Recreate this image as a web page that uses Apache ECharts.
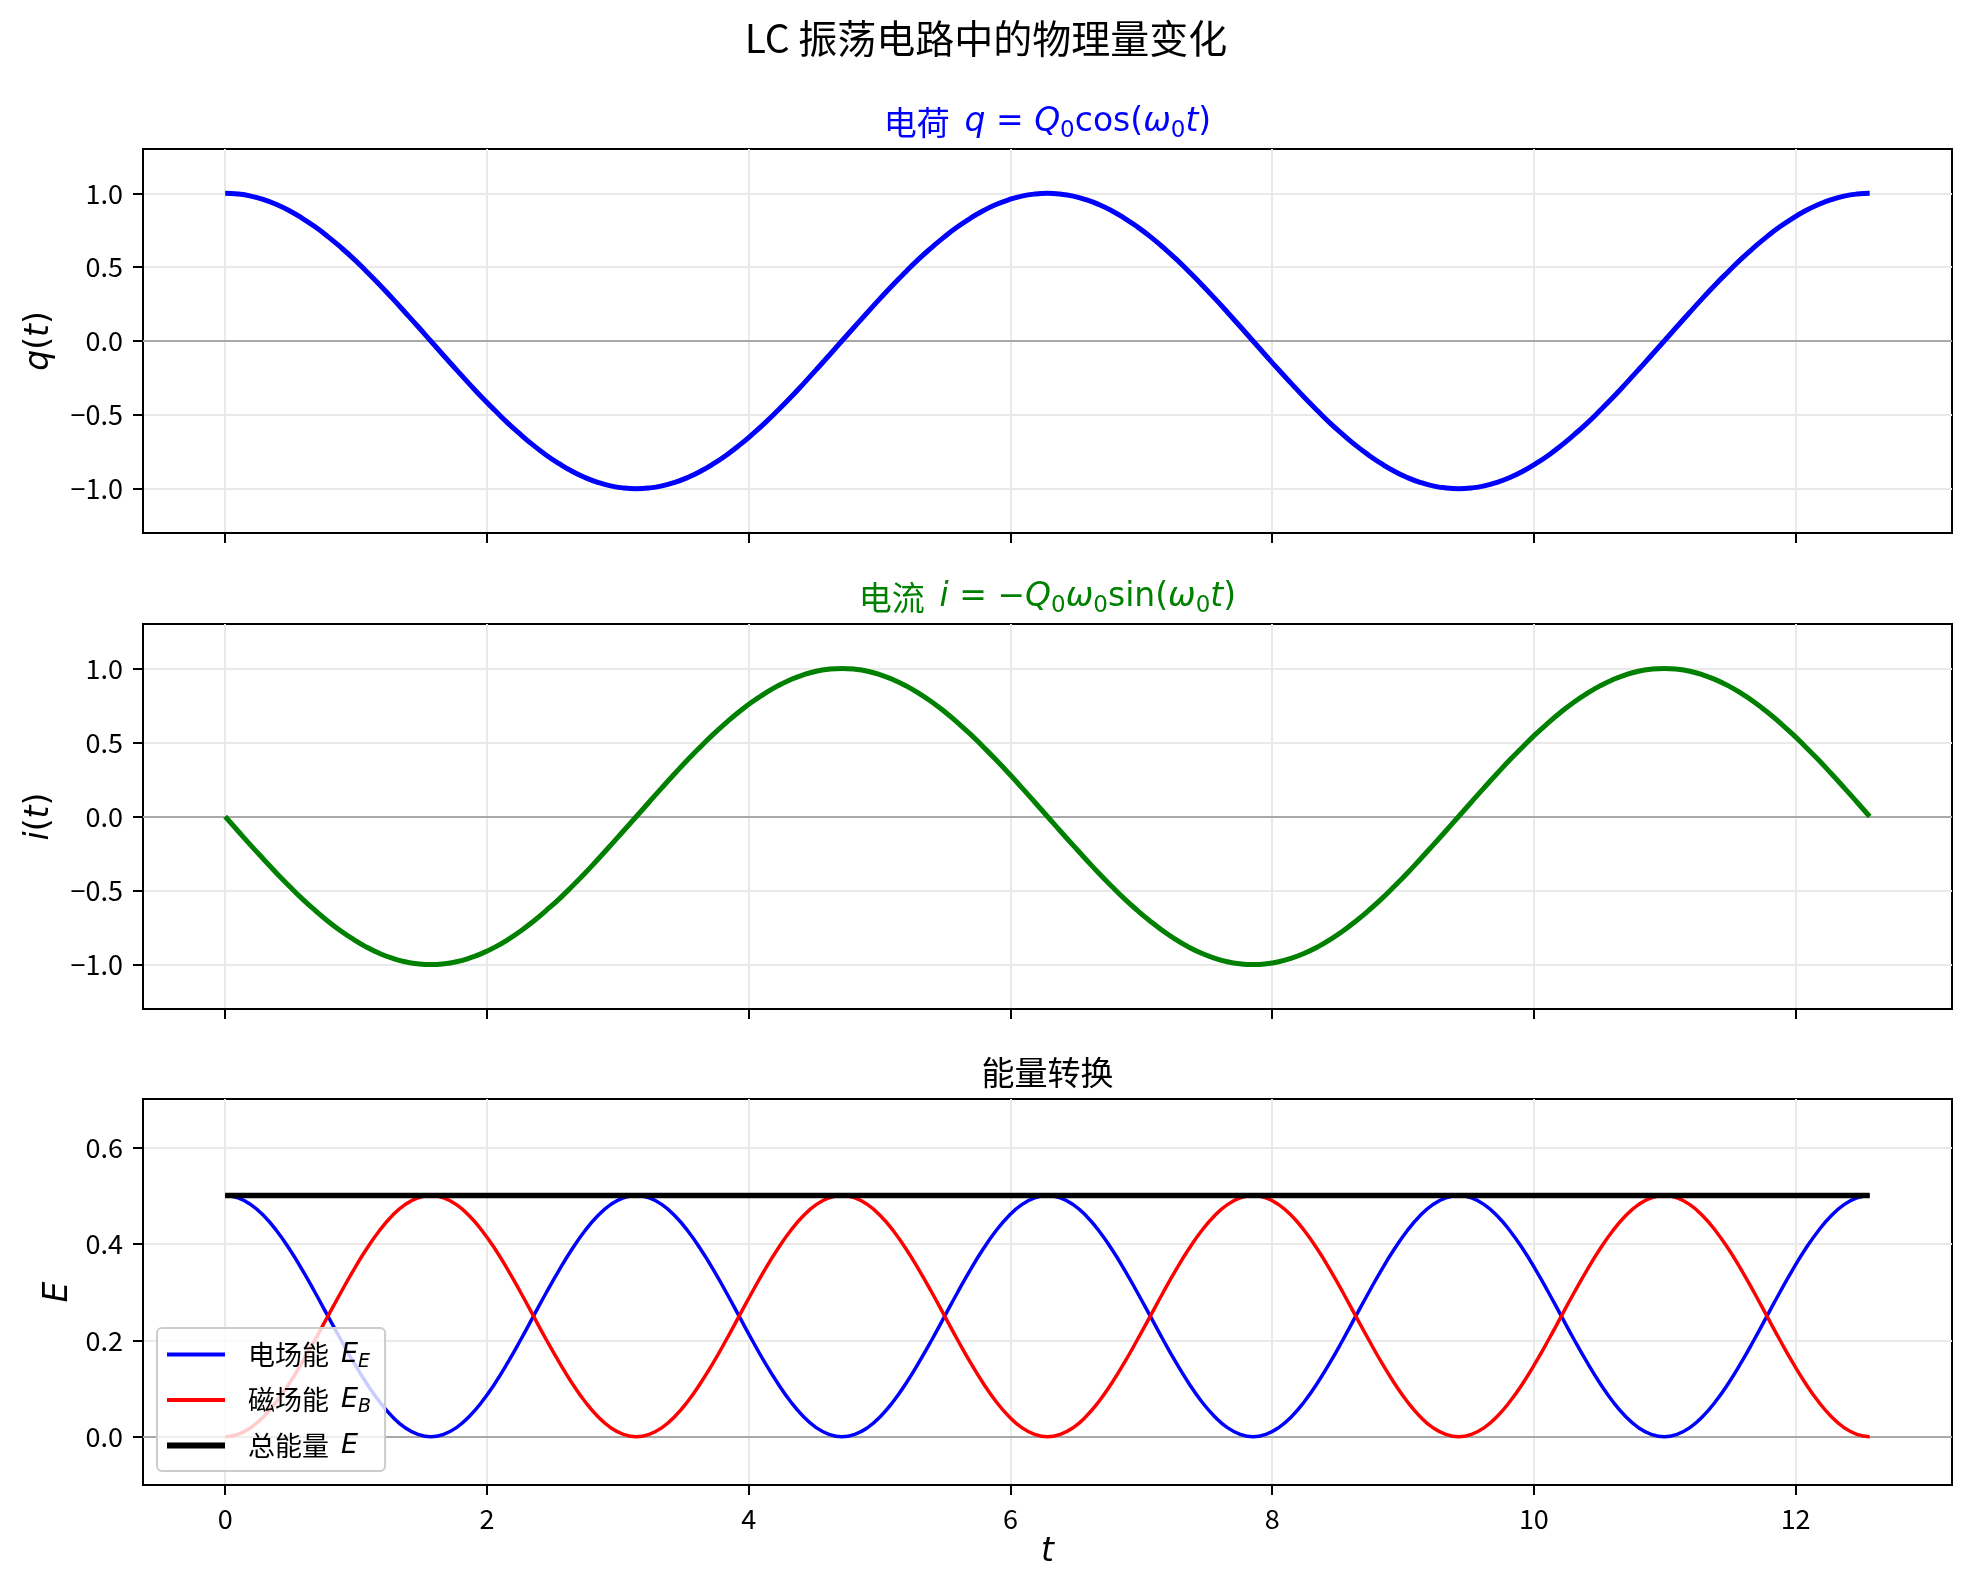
<!DOCTYPE html>
<html><head><meta charset="utf-8">
<script src="https://cdn.jsdelivr.net/npm/echarts@6/dist/echarts.min.js"></script>
<style>html,body{margin:0;padding:0;background:#fff}#c{width:1972px;height:1586px}</style>
</head><body><div id="c"></div>
<script>
// ---- data ----
const t = [0, 0.098, 0.196, 0.295, 0.393, 0.491, 0.589, 0.687, 0.785, 0.884, 0.982, 1.080, 1.178, 1.276, 1.374, 1.473,
  1.571, 1.669, 1.767, 1.865, 1.963, 2.062, 2.160, 2.258, 2.356, 2.454, 2.553, 2.651, 2.749, 2.847, 2.945, 3.043,
  3.142, 3.240, 3.338, 3.436, 3.534, 3.632, 3.731, 3.829, 3.927, 4.025, 4.123, 4.222, 4.320, 4.418, 4.516, 4.614,
  4.712, 4.811, 4.909, 5.007, 5.105, 5.203, 5.301, 5.400, 5.498, 5.596, 5.694, 5.792, 5.890, 5.989, 6.087, 6.185,
  6.283, 6.381, 6.480, 6.578, 6.676, 6.774, 6.872, 6.970, 7.069, 7.167, 7.265, 7.363, 7.461, 7.560, 7.658, 7.756,
  7.854, 7.952, 8.050, 8.149, 8.247, 8.345, 8.443, 8.541, 8.639, 8.738, 8.836, 8.934, 9.032, 9.130, 9.228, 9.327,
  9.425, 9.523, 9.621, 9.719, 9.817, 9.916, 10.014, 10.112, 10.210, 10.308, 10.407, 10.505, 10.603, 10.701, 10.799, 10.897,
  10.996, 11.094, 11.192, 11.290, 11.388, 11.487, 11.585, 11.683, 11.781, 11.879, 11.977, 12.075, 12.174, 12.272, 12.370, 12.468,
  12.566];
const charge = [1, 0.995, 0.981, 0.957, 0.924, 0.882, 0.831, 0.773, 0.707, 0.634, 0.556, 0.471, 0.383, 0.290, 0.195, 0.098,
  0, -0.098, -0.195, -0.290, -0.383, -0.471, -0.556, -0.634, -0.707, -0.773, -0.831, -0.882, -0.924, -0.957, -0.981, -0.995,
  -1, -0.995, -0.981, -0.957, -0.924, -0.882, -0.831, -0.773, -0.707, -0.634, -0.556, -0.471, -0.383, -0.290, -0.195, -0.098,
  0, 0.098, 0.195, 0.290, 0.383, 0.471, 0.556, 0.634, 0.707, 0.773, 0.831, 0.882, 0.924, 0.957, 0.981, 0.995,
  1, 0.995, 0.981, 0.957, 0.924, 0.882, 0.831, 0.773, 0.707, 0.634, 0.556, 0.471, 0.383, 0.290, 0.195, 0.098,
  0, -0.098, -0.195, -0.290, -0.383, -0.471, -0.556, -0.634, -0.707, -0.773, -0.831, -0.882, -0.924, -0.957, -0.981, -0.995,
  -1, -0.995, -0.981, -0.957, -0.924, -0.882, -0.831, -0.773, -0.707, -0.634, -0.556, -0.471, -0.383, -0.290, -0.195, -0.098,
  0, 0.098, 0.195, 0.290, 0.383, 0.471, 0.556, 0.634, 0.707, 0.773, 0.831, 0.882, 0.924, 0.957, 0.981, 0.995,
  1];
const current = [0, -0.098, -0.195, -0.290, -0.383, -0.471, -0.556, -0.634, -0.707, -0.773, -0.831, -0.882, -0.924, -0.957, -0.981, -0.995,
  -1, -0.995, -0.981, -0.957, -0.924, -0.882, -0.831, -0.773, -0.707, -0.634, -0.556, -0.471, -0.383, -0.290, -0.195, -0.098,
  0, 0.098, 0.195, 0.290, 0.383, 0.471, 0.556, 0.634, 0.707, 0.773, 0.831, 0.882, 0.924, 0.957, 0.981, 0.995,
  1, 0.995, 0.981, 0.957, 0.924, 0.882, 0.831, 0.773, 0.707, 0.634, 0.556, 0.471, 0.383, 0.290, 0.195, 0.098,
  0, -0.098, -0.195, -0.290, -0.383, -0.471, -0.556, -0.634, -0.707, -0.773, -0.831, -0.882, -0.924, -0.957, -0.981, -0.995,
  -1, -0.995, -0.981, -0.957, -0.924, -0.882, -0.831, -0.773, -0.707, -0.634, -0.556, -0.471, -0.383, -0.290, -0.195, -0.098,
  0, 0.098, 0.195, 0.290, 0.383, 0.471, 0.556, 0.634, 0.707, 0.773, 0.831, 0.882, 0.924, 0.957, 0.981, 0.995,
  1, 0.995, 0.981, 0.957, 0.924, 0.882, 0.831, 0.773, 0.707, 0.634, 0.556, 0.471, 0.383, 0.290, 0.195, 0.098,
  0];
const energyE = [0.5, 0.495, 0.481, 0.458, 0.427, 0.389, 0.346, 0.299, 0.25, 0.201, 0.154, 0.111, 0.073, 0.042, 0.019, 0.005,
  0, 0.005, 0.019, 0.042, 0.073, 0.111, 0.154, 0.201, 0.25, 0.299, 0.346, 0.389, 0.427, 0.458, 0.481, 0.495,
  0.5, 0.495, 0.481, 0.458, 0.427, 0.389, 0.346, 0.299, 0.25, 0.201, 0.154, 0.111, 0.073, 0.042, 0.019, 0.005,
  0, 0.005, 0.019, 0.042, 0.073, 0.111, 0.154, 0.201, 0.25, 0.299, 0.346, 0.389, 0.427, 0.458, 0.481, 0.495,
  0.5, 0.495, 0.481, 0.458, 0.427, 0.389, 0.346, 0.299, 0.25, 0.201, 0.154, 0.111, 0.073, 0.042, 0.019, 0.005,
  0, 0.005, 0.019, 0.042, 0.073, 0.111, 0.154, 0.201, 0.25, 0.299, 0.346, 0.389, 0.427, 0.458, 0.481, 0.495,
  0.5, 0.495, 0.481, 0.458, 0.427, 0.389, 0.346, 0.299, 0.25, 0.201, 0.154, 0.111, 0.073, 0.042, 0.019, 0.005,
  0, 0.005, 0.019, 0.042, 0.073, 0.111, 0.154, 0.201, 0.25, 0.299, 0.346, 0.389, 0.427, 0.458, 0.481, 0.495,
  0.5];
const energyB = [0, 0.005, 0.019, 0.042, 0.073, 0.111, 0.154, 0.201, 0.25, 0.299, 0.346, 0.389, 0.427, 0.458, 0.481, 0.495,
  0.5, 0.495, 0.481, 0.458, 0.427, 0.389, 0.346, 0.299, 0.25, 0.201, 0.154, 0.111, 0.073, 0.042, 0.019, 0.005,
  0, 0.005, 0.019, 0.042, 0.073, 0.111, 0.154, 0.201, 0.25, 0.299, 0.346, 0.389, 0.427, 0.458, 0.481, 0.495,
  0.5, 0.495, 0.481, 0.458, 0.427, 0.389, 0.346, 0.299, 0.25, 0.201, 0.154, 0.111, 0.073, 0.042, 0.019, 0.005,
  0, 0.005, 0.019, 0.042, 0.073, 0.111, 0.154, 0.201, 0.25, 0.299, 0.346, 0.389, 0.427, 0.458, 0.481, 0.495,
  0.5, 0.495, 0.481, 0.458, 0.427, 0.389, 0.346, 0.299, 0.25, 0.201, 0.154, 0.111, 0.073, 0.042, 0.019, 0.005,
  0, 0.005, 0.019, 0.042, 0.073, 0.111, 0.154, 0.201, 0.25, 0.299, 0.346, 0.389, 0.427, 0.458, 0.481, 0.495,
  0.5, 0.495, 0.481, 0.458, 0.427, 0.389, 0.346, 0.299, 0.25, 0.201, 0.154, 0.111, 0.073, 0.042, 0.019, 0.005,
  0];
const energyTotal = [0.5, 0.5, 0.5, 0.5, 0.5, 0.5, 0.5, 0.5, 0.5, 0.5, 0.5, 0.5, 0.5, 0.5, 0.5, 0.5,
  0.5, 0.5, 0.5, 0.5, 0.5, 0.5, 0.5, 0.5, 0.5, 0.5, 0.5, 0.5, 0.5, 0.5, 0.5, 0.5,
  0.5, 0.5, 0.5, 0.5, 0.5, 0.5, 0.5, 0.5, 0.5, 0.5, 0.5, 0.5, 0.5, 0.5, 0.5, 0.5,
  0.5, 0.5, 0.5, 0.5, 0.5, 0.5, 0.5, 0.5, 0.5, 0.5, 0.5, 0.5, 0.5, 0.5, 0.5, 0.5,
  0.5, 0.5, 0.5, 0.5, 0.5, 0.5, 0.5, 0.5, 0.5, 0.5, 0.5, 0.5, 0.5, 0.5, 0.5, 0.5,
  0.5, 0.5, 0.5, 0.5, 0.5, 0.5, 0.5, 0.5, 0.5, 0.5, 0.5, 0.5, 0.5, 0.5, 0.5, 0.5,
  0.5, 0.5, 0.5, 0.5, 0.5, 0.5, 0.5, 0.5, 0.5, 0.5, 0.5, 0.5, 0.5, 0.5, 0.5, 0.5,
  0.5, 0.5, 0.5, 0.5, 0.5, 0.5, 0.5, 0.5, 0.5, 0.5, 0.5, 0.5, 0.5, 0.5, 0.5, 0.5,
  0.5];
const xTicks = [0, 2, 4, 6, 8, 10, 12];
const waveTicks = [-1.0, -0.5, 0.0, 0.5, 1.0];
const energyTicks = [0.0, 0.2, 0.4, 0.6];
const seriesNames = ['电场能', '磁场能', '总能量'];
const legendMath = { '电场能': ['E', 'E'], '磁场能': ['E', 'B'], '总能量': ['E', ''] };
const suptitle = 'LC 振荡电路中的物理量变化';
const energyTitle = '能量转换';

// ---- styling / layout ----
const CJK = '"Noto Sans CJK SC", "Noto Sans CJK JP", sans-serif';
const MATH = '"DejaVu Sans", sans-serif';
const GRIDS = [
  { left: 143, top: 149, width: 1809, height: 384 },
  { left: 143, top: 624, width: 1809, height: 385 },
  { left: 143, top: 1099, width: 1809, height: 386 }
];
const fmt = v => v.toFixed(1).replace('-', '\u2212');
const pairs = arr => t.map((x, k) => [x, arr[k]]);

function mathRich(color, size) {
  const sub = Math.round(size * 0.7);
  return {
    cn: { fontFamily: CJK, fontSize: size, color: color, fill: color, lineHeight: size + 8 },
    n: { fontFamily: MATH, fontSize: size, color: color, fill: color, lineHeight: size + 8 },
    i: { fontFamily: MATH, fontStyle: 'italic', fontSize: size, color: color, fill: color, lineHeight: size + 8 },
    s: { fontFamily: MATH, fontSize: sub, color: color, fill: color, verticalAlign: 'bottom' }
  };
}

function xAxis(gi, showLabel) {
  const ax = {
    type: 'value', gridIndex: gi, min: -0.628, max: 13.195,
    axisLine: { show: true, onZero: false, lineStyle: { color: '#000', width: 2 } },
    axisTick: { show: true, customValues: xTicks, length: 10, lineStyle: { color: '#000', width: 2 } },
    axisLabel: { show: showLabel, customValues: xTicks, margin: 20, fontFamily: CJK, fontSize: 27, color: '#000',
      formatter: v => String(v) },
    splitLine: { show: true, lineStyle: { color: '#e9e9e9', width: 2 } }
  };
  if (showLabel) {
    ax.name = 't'; ax.nameLocation = 'middle'; ax.nameGap = 51;
    ax.nameTextStyle = { fontFamily: MATH, fontStyle: 'italic', fontSize: 33, color: '#000' };
  }
  return ax;
}
function yAxis(gi, min, max, ticks, name, gap) {
  return {
    type: 'value', gridIndex: gi, min: min, max: max,
    axisLine: { show: true, onZero: false, lineStyle: { color: '#000', width: 2 } },
    axisTick: { show: true, customValues: ticks, length: 10, lineStyle: { color: '#000', width: 2 } },
    axisLabel: { customValues: ticks, margin: 20, fontFamily: CJK, fontSize: 27, color: '#000', formatter: fmt },
    splitLine: { show: true, lineStyle: { color: '#e9e9e9', width: 2 } },
    name: name, nameLocation: 'middle', nameGap: gap, nameRotate: 90,
    nameTextStyle: { color: '#000', rich: mathRich('#000', 33) }
  };
}
function zeroLine(gi) {
  return {
    type: 'line', xAxisIndex: gi, yAxisIndex: gi, data: [], z: 1, silent: true,
    markLine: { silent: true, symbol: 'none', animation: false, label: { show: false },
      lineStyle: { color: '#a9a9a9', width: 2, type: 'solid' }, data: [{ yAxis: 0 }] }
  };
}
function curve(gi, name, arr, color, width) {
  return {
    type: 'line', name: name, xAxisIndex: gi, yAxisIndex: gi, data: pairs(arr),
    symbol: 'none', showSymbol: false, smooth: true, z: 10,
    lineStyle: { color: color, width: width }, itemStyle: { color: color }
  };
}

const legendIcons = {
  '电场能': 'path://M0,0H58V4H0Z',
  '磁场能': 'path://M0,0H58V4H0Z',
  '总能量': 'path://M0,0H58V6H0Z'
};

const chart = echarts.init(document.getElementById('c'), null, { renderer: 'canvas' });
chart.setOption({
  animation: false,
  backgroundColor: '#fff',
  grid: GRIDS.map(g => Object.assign({ show: true, borderColor: '#000', borderWidth: 2, backgroundColor: 'transparent',
    containLabel: false, outerBoundsMode: 'none' }, g)),
  xAxis: [xAxis(0, false), xAxis(1, false), xAxis(2, true)],
  yAxis: [
    yAxis(0, -1.3, 1.3, waveTicks, '{i|q}{n|(}{i|t}{n|)}', 83),
    yAxis(1, -1.3, 1.3, waveTicks, '{i|i}{n|(}{i|t}{n|)}', 83),
    yAxis(2, -0.1, 0.7, energyTicks, '{i|E}', 62)
  ],
  legend: {
    show: true, left: 157, top: 1328, orient: 'vertical', z: 30,
    data: seriesNames.map(n => ({ name: n, icon: legendIcons[n] })), selectedMode: false,
    itemWidth: 58, itemHeight: 14, itemGap: 15, symbolKeepAspect: true,
    padding: [13, 14, 12, 10],
    backgroundColor: 'rgba(255,255,255,0.8)', borderColor: '#cccccc', borderWidth: 2, borderRadius: 5,
    formatter: name => '{n|' + name + '}{m|' + legendMath[name][0] + '}' + (legendMath[name][1] ? '{s|' + legendMath[name][1] + '}' : ''),
    textStyle: {
      fontFamily: CJK, fontSize: 27, color: '#000',
      rich: {
        n: { fontFamily: CJK, fontSize: 27, color: '#000', padding: [0, 12, 0, 18], lineHeight: 34 },
        m: { fontFamily: MATH, fontStyle: 'italic', fontSize: 27, color: '#000', lineHeight: 34 },
        s: { fontFamily: MATH, fontStyle: 'italic', fontSize: 19, color: '#000', verticalAlign: 'bottom' }
      }
    }
  },
  graphic: [
    { type: 'text', x: 986, y: 38, z: 50, style: { text: suptitle, fontFamily: CJK, fontSize: 39, fill: '#000', align: 'center', verticalAlign: 'middle' } },
    { type: 'text', x: 1047.5, y: 122, z: 50, style: {
      text: '{cn|电荷  }{i|q}{n| = }{i|Q}{s|0}{n|cos(}{i|ω}{s|0}{i|t}{n|)}',
      rich: mathRich('#0000ff', 33), fill: '#0000ff', align: 'center', verticalAlign: 'middle' } },
    { type: 'text', x: 1047.5, y: 597, z: 50, style: {
      text: '{cn|电流  }{i|i}{n| = −}{i|Q}{s|0}{i|ω}{s|0}{n|sin(}{i|ω}{s|0}{i|t}{n|)}',
      rich: mathRich('#008000', 33), fill: '#008000', align: 'center', verticalAlign: 'middle' } },
    { type: 'text', x: 1047.5, y: 1072, z: 50, style: { text: energyTitle, fontFamily: CJK, fontSize: 33, fill: '#000', align: 'center', verticalAlign: 'middle' } }
  ],
  series: [
    zeroLine(0), zeroLine(1), zeroLine(2),
    curve(0, '电荷', charge, '#0000ff', 5),
    curve(1, '电流', current, '#008000', 5),
    curve(2, seriesNames[0], energyE, '#0000ff', 3.5),
    curve(2, seriesNames[1], energyB, '#ff0000', 3.5),
    curve(2, seriesNames[2], energyTotal, '#000000', 5.5)
  ]
});
</script></body></html>
